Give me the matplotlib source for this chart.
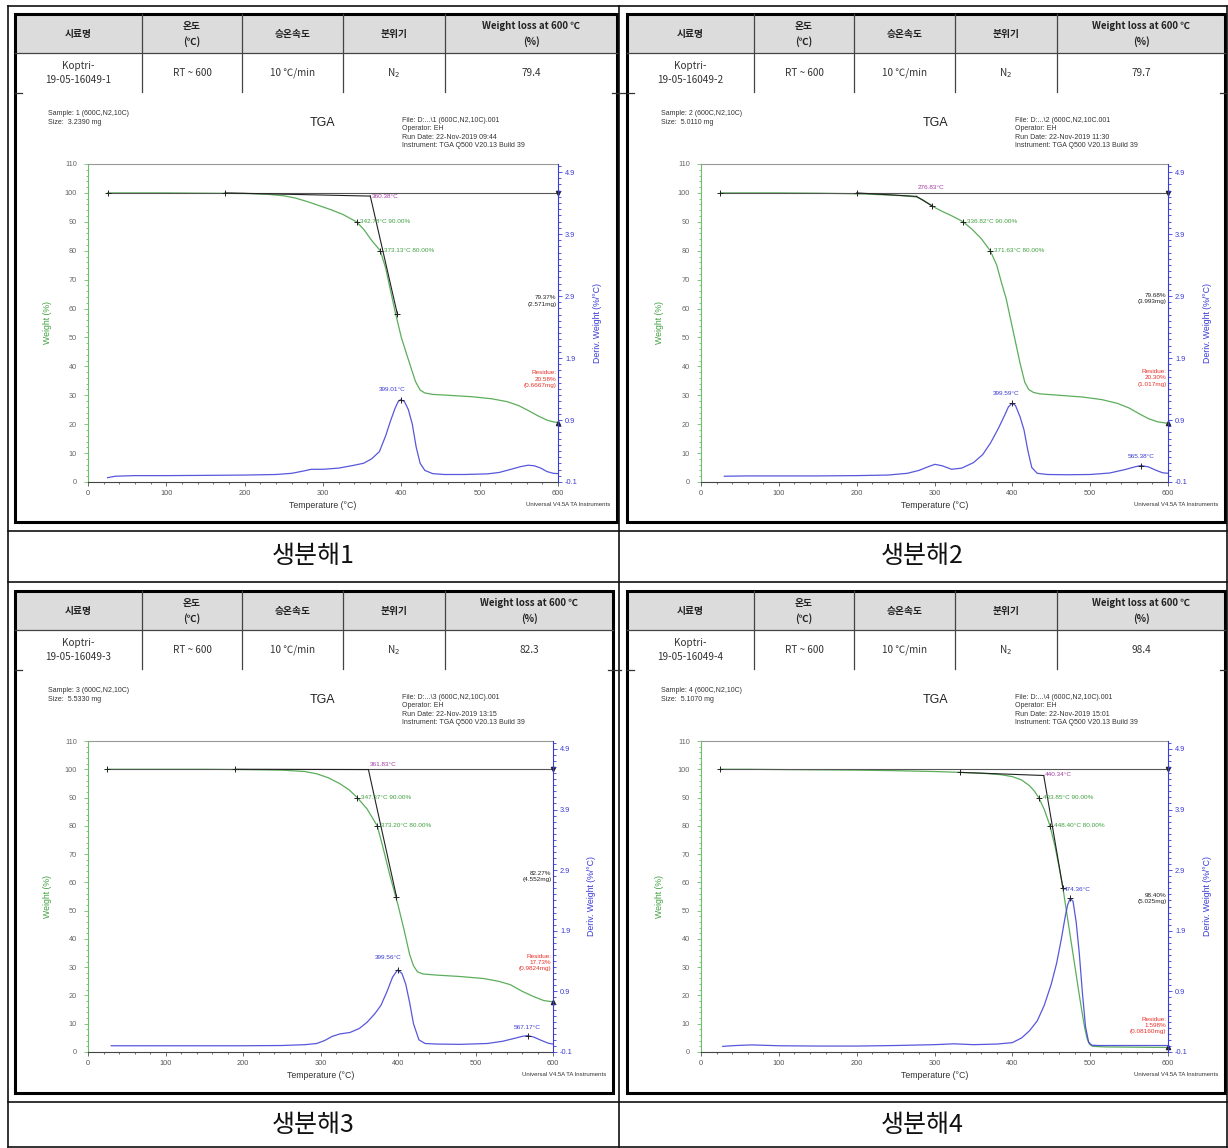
import matplotlib.pyplot as plt
from matplotlib.patches import Rectangle

plt.rcParams['font.family'] = ['Liberation Sans', 'DejaVu Sans']
KR = ['Noto Sans CJK KR', 'DejaVu Sans']

# ---------------- table contents ----------------
header = ['시료명', '온도\n(℃)', '승온속도', '분위기', 'Weight loss at 600 ℃\n(%)']
sample_names = ['Koptri-\n19-05-16049-1', 'Koptri-\n19-05-16049-2',
                'Koptri-\n19-05-16049-3', 'Koptri-\n19-05-16049-4']
temp_range = 'RT ~ 600'
heating_rate = '10 ℃/min'
atmosphere = 'N$_2$'
weight_loss = ['79.4', '79.7', '82.3', '98.4']
captions = ['생분해1', '생분해2', '생분해3', '생분해4']

# ---------------- instrument header ----------------
sample_sizes = ['3.2390', '5.0110', '5.5330', '5.1070']
file_names = ['D:...\\1 (600C,N2,10C).001', 'D:...\\2 (600C,N2,10C.001',
              'D:...\\3 (600C,N2,10C).001', 'D:...\\4 (600C,N2,10C).001']
run_times = ['09:44', '11:30', '13:15', '15:01']

# ---------------- analysis results ----------------
onset_T = [360.38, 276.83, 361.83, 440.34]
onset_w = [98.9, 98.8, 99.9, 97.8]
base_start_T = [175, 200, 190, 333]
base_start_w = [100, 100, 100, 98.9]
tangent_end_T = [395, 297, 398, 465]
tangent_end_w = [58, 95.5, 55, 58]
t90 = [342.78, 336.82, 347.37, 433.85]
t80 = [373.13, 371.63, 373.20, 448.40]
loss_pct = ['79.37', '79.68', '82.27', '98.40']
loss_mg = ['2.571', '3.993', '4.552', '5.025']
residue_pct = ['20.58', '20.30', '17.73', '1.598']
residue_mg = ['0.6667', '1.017', '0.9824', '0.08160']
peak_T = [399.01, 399.59, 399.56, 474.36]
second_peak_T = [None, 565.38, 567.17, None]

# ---------------- weight curves (%) ----------------
t_w1 = [25, 60, 100, 150, 200, 230, 250, 265, 280, 295, 310, 325, 342.78, 352, 362,
        373.13, 380, 386, 392, 400, 407, 412, 418, 424, 430, 440, 460, 490, 515, 535,
        550, 563, 575, 586, 594, 600]
w1 = [100, 100, 100, 99.9, 99.8, 99.5, 99.0, 98.2, 97.0, 95.6, 94.2, 92.6, 90.0, 87.4,
      83.6, 80.0, 74.0, 66.5, 59.0, 50.0, 44.0, 39.8, 34.8, 31.8, 30.8, 30.3, 30.0, 29.5,
      28.8, 27.8, 26.4, 24.6, 22.8, 21.4, 20.8, 20.58]

t_w2 = [25, 60, 100, 150, 200, 240, 260, 276.83, 285, 293, 300, 310, 322, 336.82, 348,
        360, 371.63, 380, 386, 392, 398, 404, 410, 416, 421, 427, 435, 460, 490, 515, 535,
        550, 563, 575, 587, 600]
w2 = [100, 100, 100, 99.9, 99.7, 99.3, 99.0, 98.6, 97.6, 96.2, 95.0, 93.6, 92.1, 90.0,
      87.5, 84.2, 80.0, 75.0, 69.0, 63.5, 56.0, 48.5, 41.0, 34.5, 32.0, 31.0, 30.5, 30.0,
      29.4, 28.5, 27.2, 25.6, 23.6, 21.9, 20.8, 20.30]

t_w3 = [25, 60, 100, 150, 200, 250, 280, 295, 310, 325, 337, 347.37, 360, 373.20, 380,
        390, 400, 408, 415, 420, 425, 432, 450, 480, 510, 530, 545, 560, 575, 588, 600]
w3 = [100, 100, 100, 100, 99.9, 99.7, 99.2, 98.4, 97.0, 94.9, 92.7, 90.0, 86.0, 80.0,
      73.0, 62.0, 52.0, 43.0, 34.5, 30.5, 28.4, 27.6, 27.2, 26.7, 26.0, 25.0, 23.8, 21.5,
      19.6, 18.2, 17.73]

t_w4 = [25, 60, 100, 150, 200, 250, 300, 333, 360, 385, 400, 412, 422, 428, 433.85, 441,
        448.40, 455, 460, 465, 470, 475, 480, 485, 489, 493, 496, 499, 503, 520, 560, 600]
w4 = [100, 100, 99.9, 99.8, 99.7, 99.5, 99.2, 98.9, 98.6, 98.1, 97.4, 96.2, 94.2, 92.4,
      90.0, 85.8, 80.0, 72.5, 65.5, 58.0, 49.0, 40.0, 31.0, 22.0, 15.0, 8.5, 4.8, 2.8,
      2.0, 1.8, 1.7, 1.598]

# ---------------- derivative curves (%/°C) ----------------
t_d1 = [25, 35, 60, 100, 150, 200, 240, 260, 275, 285, 300, 320, 340, 352, 362, 372, 380,
        386, 392, 396, 399.01, 404, 409, 414, 419, 424, 430, 440, 455, 480, 510, 525, 540,
        552, 562, 570, 578, 586, 594, 600]
d1 = [-0.030, -0.007, 0.003, 0.003, 0.007, 0.012, 0.021, 0.040, 0.077, 0.105, 0.105,
      0.124, 0.171, 0.203, 0.273, 0.390, 0.646, 0.879, 1.089, 1.197, 1.229, 1.197, 1.066,
      0.833, 0.460, 0.203, 0.087, 0.035, 0.021, 0.021, 0.031, 0.054, 0.105, 0.147, 0.171,
      0.161, 0.124, 0.068, 0.040, 0.035]

t_d2 = [30, 60, 100, 150, 200, 240, 265, 280, 292, 300.5, 310, 322, 335, 350, 362, 372,
        382, 390, 395, 399.59, 404, 410, 415, 420, 425, 432, 445, 470, 500, 525, 545, 557,
        565.38, 575, 585, 593, 600]
d2 = [-0.007, -0.002, -0.002, -0.002, 0.003, 0.012, 0.040, 0.087, 0.147, 0.185, 0.161,
      0.105, 0.124, 0.212, 0.343, 0.530, 0.763, 0.973, 1.113, 1.169, 1.136, 0.949, 0.740,
      0.404, 0.133, 0.040, 0.021, 0.017, 0.021, 0.045, 0.101, 0.143, 0.166, 0.143, 0.087,
      0.049, 0.040]

t_d3 = [30, 60, 100, 150, 200, 250, 280, 295, 305, 315, 325, 338, 350, 360, 370, 378, 386,
        393, 399.56, 405, 410, 415, 420, 427, 435, 450, 480, 515, 535, 550, 560, 567.17,
        575, 585, 594, 600]
d3 = [0.003, 0.003, 0.003, 0.003, 0.003, 0.007, 0.021, 0.040, 0.087, 0.157, 0.198, 0.222,
      0.287, 0.390, 0.530, 0.670, 0.903, 1.136, 1.253, 1.197, 1.019, 0.716, 0.366, 0.101,
      0.040, 0.031, 0.026, 0.040, 0.077, 0.124, 0.157, 0.171, 0.147, 0.091, 0.045, 0.031]

t_d4 = [28, 45, 65, 100, 150, 200, 250, 300, 325, 350, 380, 400, 412, 422, 432, 441, 450,
        457, 463, 468, 471, 474.36, 478, 482, 486, 490, 494, 498, 502, 510, 540, 600]
d4 = [-0.007, 0.007, 0.017, 0.003, -0.002, -0.002, 0.007, 0.021, 0.035, 0.021, 0.031,
      0.054, 0.133, 0.250, 0.413, 0.670, 1.019, 1.369, 1.766, 2.139, 2.325, 2.433, 2.386,
      2.045, 1.532, 0.879, 0.320, 0.063, 0.012, 0.007, 0.007, 0.007]

weight_T = [t_w1, t_w2, t_w3, t_w4]
weight = [w1, w2, w3, w4]
deriv_T = [t_d1, t_d2, t_d3, t_d4]
deriv = [d1, d2, d3, d4]

# ---------------- page layout (pixels) ----------------
W, H = 1228, 1148
frames = [(15, 14, 617, 522), (627, 14, 1225, 522),
          (15, 591, 613, 1093), (627, 591, 1225, 1093)]
axes_px = [(88, 164, 558, 482), (701, 164, 1168, 482),
           (88, 741, 553, 1052), (701, 741, 1168, 1052)]
caption_xy = [(313, 556), (922, 556), (313, 1125), (922, 1125)]
col_edges = [0, 127, 227, 328, 430]

# label placement in left-axis units
onset_lbl = [(2, 98.6, 'center'), (1, 102.0, 'center'), (2, 101.8, 'center'), (1, 98.0, 'center')]
loss_lbl_y = [62.6, 63.5, 62.1, 54.3]
residue_lbl_y = [35.6, 36.0, 31.7, 9.4]
peak_lbl = [(-11, 0.17, 'center'), (-8, 0.16, 'center'), (-12, 0.21, 'center'), (-8, 0.14, 'left')]

GREEN = '#3f9f3f'
BLUE = '#3a3ad6'
PURPLE = '#a03ca0'
RED = '#e8302a'

fig = plt.figure(figsize=(W / 100, H / 100), dpi=100)
base = fig.add_axes([0, 0, 1, 1])
base.set_xlim(0, W)
base.set_ylim(H, 0)
base.axis('off')

# outer document table
for yy in [6, 531, 582, 1102, 1147]:
    base.plot([8, 1227], [yy, yy], color='#111', lw=1.2)
for xx in [8, 619, 1227]:
    base.plot([xx, xx], [6, 1147], color='#111', lw=1.2)

for i in range(4):
    x0, y0, x1, y1 = frames[i]

    # header table
    cols = [x0 + c for c in col_edges] + [x1]
    base.add_patch(Rectangle((x0, y0), x1 - x0, 39, fc='#dcdcdc', ec='none'))
    base.plot([x0, x1], [y0 + 39, y0 + 39], color='#444', lw=0.9)
    for c in cols[1:-1]:
        base.plot([c, c], [y0, y0 + 78], color='#444', lw=0.9)
    row = [sample_names[i], temp_range, heating_rate, atmosphere, weight_loss[i]]
    for j in range(5):
        cx = (cols[j] + cols[j + 1]) / 2
        base.text(cx, y0 + 20, header[j], ha='center', va='center', fontsize=7,
                  fontweight='bold', family=KR, color='#222', linespacing=1.5)
        base.text(cx, y0 + 59, row[j], ha='center', va='center', fontsize=7.2,
                  family=KR, color='#333', linespacing=1.5)
    base.plot([x0, x0 + 7], [y0 + 79, y0 + 79], color='#333', lw=0.9)
    base.plot([x1 - 5, x1 + 8], [y0 + 79, y0 + 79], color='#333', lw=0.9)
    base.add_patch(Rectangle((x0, y0), x1 - x0, y1 - y0, fill=False, ec='k', lw=2.2))

    # caption
    base.text(*caption_xy[i], captions[i], ha='center', va='center', fontsize=18,
              family=KR, fontweight='light', color='#111')

    # instrument header
    l, t, r, b = axes_px[i]
    base.text(l - 40, t - 46, f'Sample: {i + 1} (600C,N2,10C)\nSize:  {sample_sizes[i]} mg',
              fontsize=5, va='center', ha='left', color='#333', linespacing=1.4)
    base.text(l + 235, t - 41, 'TGA', fontsize=9, ha='center', va='center', color='#222')
    base.text(l + 314, t - 31,
              f'File: {file_names[i]}\nOperator: EH\nRun Date: 22-Nov-2019 {run_times[i]}\n'
              'Instrument: TGA Q500 V20.13 Build 39',
              fontsize=5, va='center', ha='left', color='#333', linespacing=1.3)
    base.text(x1 - 7, b + 22, 'Universal V4.5A TA Instruments', fontsize=4.3,
              ha='right', va='center', color='#333')

    # TGA plot
    ax = fig.add_axes([l / W, 1 - b / H, (r - l) / W, (b - t) / H])
    ax.patch.set_alpha(0)
    ax.set_xlim(0, 600)
    ax.set_ylim(0, 110)
    ax2 = ax.twinx()
    ax2.set_ylim(-0.1, 5.03)

    ax.set_xticks(range(0, 601, 100))
    ax.set_xticks(range(0, 601, 20), minor=True)
    ax.set_yticks(range(0, 111, 10))
    ax.set_yticks(range(0, 111, 2), minor=True)
    ax.tick_params(axis='x', which='both', color='#555', labelcolor='#555',
                   labelsize=5.3, width=0.6, length=3, pad=3)
    ax.tick_params(axis='x', which='minor', length=1.5)
    ax.tick_params(axis='y', which='both', color='#6cbf6c', labelcolor='#666',
                   labelsize=5.3, width=0.6, length=3, pad=5)
    ax.tick_params(axis='y', which='minor', length=1.5)
    ticks2 = [-0.1, 0.9, 1.9, 2.9, 3.9, 4.9]
    ax2.set_yticks(ticks2)
    ax2.set_yticklabels([f'{v:.1f}' for v in ticks2])
    ax2.set_yticks([k / 10 for k in range(-1, 51)], minor=True)
    ax2.tick_params(axis='y', which='both', color=BLUE, labelcolor=BLUE,
                    labelsize=5.3, width=0.6, length=3, pad=2)
    ax2.tick_params(axis='y', which='minor', length=1.8)

    ax.spines['left'].set_color('#6cbf6c')
    ax.spines['bottom'].set_color('#444')
    ax.spines['top'].set_color('#999')
    ax.spines['right'].set_visible(False)
    for s in ['left', 'top', 'bottom']:
        ax2.spines[s].set_visible(False)
    ax2.spines['right'].set_color(BLUE)
    for sp in list(ax.spines.values()) + [ax2.spines['right']]:
        sp.set_linewidth(0.8)

    w_px = r - l
    ax.text(-41 / w_px, 0.5, 'Weight (%)', rotation=90, transform=ax.transAxes,
            ha='center', va='center', fontsize=6.3, color=GREEN)
    ax.text(1 + 39 / w_px, 0.5, 'Deriv. Weight (%/°C)', rotation=90, transform=ax.transAxes,
            ha='center', va='center', fontsize=6.3, color=BLUE)
    ax.text(0.5, -24 / (b - t), 'Temperature (°C)', transform=ax.transAxes,
            ha='center', va='center', fontsize=6.3, color='#333')

    # curves
    ax.plot(weight_T[i], weight[i], color=GREEN, lw=0.9, alpha=0.85)
    ax2.plot(deriv_T[i], deriv[i], color=BLUE, lw=0.9, alpha=0.85)

    # onset construction lines
    ax.plot([weight_T[i][0], 600], [100, 100], color='#555', lw=0.8)
    ax.plot([base_start_T[i], onset_T[i]], [base_start_w[i], onset_w[i]], color='#222', lw=0.8)
    ax.plot([onset_T[i], tangent_end_T[i]], [onset_w[i], tangent_end_w[i]], color='#222', lw=0.8)
    ax.plot([weight_T[i][0], base_start_T[i], tangent_end_T[i]],
            [100, base_start_w[i], tangent_end_w[i]], '+', color='#222', ms=5, mew=0.7)
    dx, ly, ha = onset_lbl[i]
    ax.text(onset_T[i] + dx, ly, f'{onset_T[i]:.2f}°C', color=PURPLE, fontsize=4.6,
            ha='left', va=ha)

    # 90 % and 80 % points
    ax.plot([t90[i], t80[i]], [90, 80], '+', color='#222', ms=5, mew=0.7)
    ax.text(t90[i] + 5, 90, f'{t90[i]:.2f}°C 90.00%', color=GREEN, fontsize=4.6,
            ha='left', va='center')
    ax.text(t80[i] + 5, 80, f'{t80[i]:.2f}°C 80.00%', color=GREEN, fontsize=4.6,
            ha='left', va='center')

    # weight change and residue at 600 °C
    res = float(residue_pct[i])
    ax.plot([600], [100], marker='v', color='#222', ms=3, clip_on=False)
    ax.plot([600], [res], marker='^', color='#222', ms=3, clip_on=False)
    ax.text(598, loss_lbl_y[i], f'{loss_pct[i]}%\n({loss_mg[i]}mg)', color='#222',
            fontsize=4.6, ha='right', va='center', linespacing=1.3)
    ax.text(598, residue_lbl_y[i], f'Residue:\n{residue_pct[i]}%\n({residue_mg[i]}mg)',
            color=RED, fontsize=4.6, ha='right', va='center', linespacing=1.3)

    # derivative peaks
    k = deriv_T[i].index(peak_T[i])
    pdx, pdy, pha = peak_lbl[i]
    ax2.plot(peak_T[i], deriv[i][k], '+', color='#222', ms=5, mew=0.7)
    ax2.text(peak_T[i] + pdx, deriv[i][k] + pdy, f'{peak_T[i]:.2f}°C', color=BLUE,
             fontsize=4.6, ha=pha, va='center')
    if second_peak_T[i] is not None:
        k2 = deriv_T[i].index(second_peak_T[i])
        ax2.plot(second_peak_T[i], deriv[i][k2], '+', color='#222', ms=5, mew=0.7)
        ax2.text(second_peak_T[i], deriv[i][k2] + 0.14, f'{second_peak_T[i]:.2f}°C',
                 color=BLUE, fontsize=4.6, ha='center', va='center')

fig.savefig('out.png', dpi=100)
